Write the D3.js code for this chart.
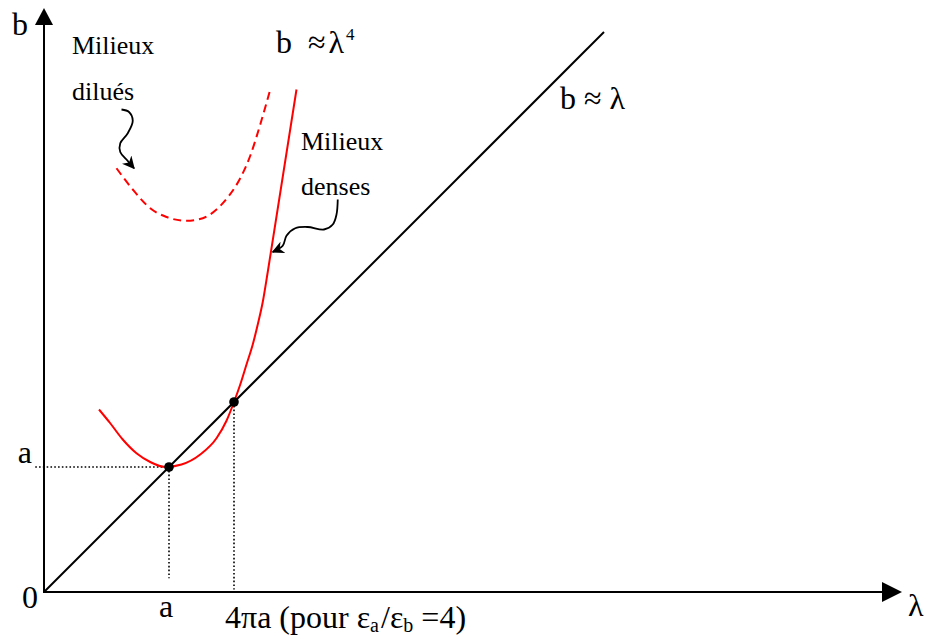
<!DOCTYPE html>
<html>
<head>
<meta charset="utf-8">
<script src="https://cdn.jsdelivr.net/npm/d3@7"></script>
<style>
  html, body { margin: 0; padding: 0; background: #fff; }
  svg { display: block; }
  text { font-family: "Liberation Serif", "Times New Roman", serif; fill: #000; }
</style>
</head>
<body>
<script>
// Schematic of b versus λ (units of a): dense and dilute media
const xMax = 6.864;          // end of the λ axis
const yMax = 4.672;          // end of the b axis
const diagonalEnd = 4.48;    // b = λ line drawn up to here

// Dense media curve (solid red): minimum b = a at λ = a, meets b = λ again at 4πa
const denseLambda = [0.44, 0.53, 0.63, 0.74, 0.85, 0.97, 1.10, 1.25, 1.38, 1.46, 1.52, 1.57, 1.62, 1.67, 1.71, 1.75, 1.79, 2.02];
const denseB      = [1.46, 1.35, 1.22, 1.11, 1.04, 1.00, 1.02, 1.10, 1.23, 1.37, 1.52, 1.66, 1.82, 1.98, 2.14, 2.32, 2.56, 4.02];

// Dilute media curve (dashed red)
const diluteLambda = [0.58, 0.71, 0.85, 0.98, 1.14, 1.27, 1.38, 1.48, 1.57, 1.65, 1.73, 1.81];
const diluteB      = [3.39, 3.22, 3.07, 3.00, 2.97, 2.99, 3.06, 3.17, 3.31, 3.49, 3.74, 4.02];

// Marked points on b = λ
const markLambda = [1.00, 1.52];

// Wavy pointers from the labels to the curves
const dilutePointerL = [0.62, 0.68, 0.71, 0.67, 0.61, 0.61, 0.66, 0.72];
const dilutePointerB = [3.86, 3.84, 3.77, 3.67, 3.59, 3.52, 3.46, 3.39];
const densePointerL  = [2.35, 2.34, 2.31, 2.24, 2.11, 2.01, 1.94, 1.91, 1.83];
const densePointerB  = [3.14, 3.02, 2.94, 2.90, 2.92, 2.91, 2.85, 2.77, 2.72];

const W = 930, H = 639;
const x = d3.scaleLinear().domain([0, xMax]).range([44, 902]);
const y = d3.scaleLinear().domain([0, yMax]).range([592, 8]);

const svg = d3.select("body").append("svg").attr("width", W).attr("height", H);

const defs = svg.append("defs");
defs.append("marker")
  .attr("id", "tip")
  .attr("viewBox", "0 0 10 10")
  .attr("refX", 9).attr("refY", 5)
  .attr("markerWidth", 7).attr("markerHeight", 7)
  .attr("markerUnits", "strokeWidth")
  .attr("orient", "auto")
  .append("path")
  .attr("d", "M0,0 L10,5 L0,10 L3,5 Z")
  .attr("fill", "#000");

const line = d3.line().x(d => x(d[0])).y(d => y(d[1]));
const zip = (a, b) => a.map((v, i) => [v, b[i]]);

// Axes
svg.append("line")
  .attr("x1", x(0)).attr("y1", y(0) + 1)
  .attr("x2", x(0)).attr("y2", y(yMax) + 14)
  .attr("stroke", "#000").attr("stroke-width", 2);
svg.append("path")
  .attr("d", `M${x(0)},${y(yMax)} L${x(0) - 9},${y(yMax) + 17} L${x(0) + 9},${y(yMax) + 17} Z`)
  .attr("fill", "#000");

svg.append("line")
  .attr("x1", x(0) - 1).attr("y1", y(0))
  .attr("x2", x(xMax) - 16).attr("y2", y(0))
  .attr("stroke", "#000").attr("stroke-width", 2);
svg.append("path")
  .attr("d", `M${x(xMax)},${y(0)} L${x(xMax) - 20},${y(0) - 10} L${x(xMax) - 20},${y(0) + 10} Z`)
  .attr("fill", "#000");

// b = λ
svg.append("path")
  .attr("d", line([[0, 0], [diagonalEnd, diagonalEnd]]))
  .attr("fill", "none").attr("stroke", "#000").attr("stroke-width", 2);

// Dotted guides
const dotted = g => g.attr("stroke", "#000").attr("stroke-width", 1.6).attr("stroke-dasharray", "1.6,2.2");
svg.append("line")
  .attr("x1", x(-0.07)).attr("y1", y(markLambda[0]))
  .attr("x2", x(markLambda[0])).attr("y2", y(markLambda[0]))
  .call(dotted);
svg.append("line")
  .attr("x1", x(markLambda[0])).attr("y1", y(markLambda[0]))
  .attr("x2", x(markLambda[0])).attr("y2", y(0.11))
  .call(dotted);
svg.append("line")
  .attr("x1", x(markLambda[1])).attr("y1", y(markLambda[1]))
  .attr("x2", x(markLambda[1])).attr("y2", y(0.02))
  .call(dotted);

// Dense media
svg.append("path")
  .attr("d", line.curve(d3.curveMonotoneX)(zip(denseLambda, denseB)))
  .attr("fill", "none").attr("stroke", "#ff0000").attr("stroke-width", 2);

// Dilute media
svg.append("path")
  .attr("d", line.curve(d3.curveMonotoneX)(zip(diluteLambda, diluteB)))
  .attr("fill", "none").attr("stroke", "#ff0000").attr("stroke-width", 2)
  .attr("stroke-dasharray", "8,5");

// Points
svg.selectAll("circle.mark")
  .data(markLambda)
  .join("circle")
  .attr("class", "mark")
  .attr("cx", d => x(d)).attr("cy", d => y(d))
  .attr("r", 4.8).attr("fill", "#000");

// Wavy pointers
[[dilutePointerL, dilutePointerB], [densePointerL, densePointerB]].forEach(([l, b]) => {
  svg.append("path")
    .attr("d", line.curve(d3.curveCatmullRom.alpha(0.5))(zip(l, b)))
    .attr("fill", "none").attr("stroke", "#000").attr("stroke-width", 1.8)
    .attr("marker-end", "url(#tip)");
});

// Labels
const label = (txt, px, py, size, anchor) =>
  svg.append("text").attr("x", px).attr("y", py)
    .attr("font-size", size).attr("text-anchor", anchor || "start").text(txt);

label("b", x(0) - 32, y(yMax) + 27, 32);
label("Milieux", x(0.224), y(4.304), 26);
label("dilués", x(0.224), y(3.936), 26);
label("Milieux", x(2.056), y(3.536), 26);
label("denses", x(2.056), y(3.176), 26);

const b4 = label("b", x(1.856), y(4.312), 32);
b4.append("tspan").attr("dx", 16).text("≈");
b4.append("tspan").attr("dx", 3).text("λ");
b4.append("tspan").attr("dx", 2).attr("dy", -13).attr("font-size", 17).text("4");

label("b ≈ λ", x(4.128), y(3.864), 32);

label("a", x(0) - 12, y(markLambda[0]) - 4, 32, "end");
label("0", x(0) - 14, y(0) + 16, 32, "middle");
label("a", x(markLambda[0]) - 3, y(0) + 25, 32, "middle");
label("λ", x(xMax) + 6, y(0) + 24, 32);

const t = label("4πa (pour ε", x(markLambda[1]) - 9, y(0) + 36, 32);
t.append("tspan").attr("font-size", 20).attr("dy", 4).text("a");
t.append("tspan").attr("dy", -4).attr("dx", 2).text("/ε");
t.append("tspan").attr("font-size", 20).attr("dy", 4).text("b");
t.append("tspan").attr("dy", -4).text(" =4)");
</script>
</body>
</html>
